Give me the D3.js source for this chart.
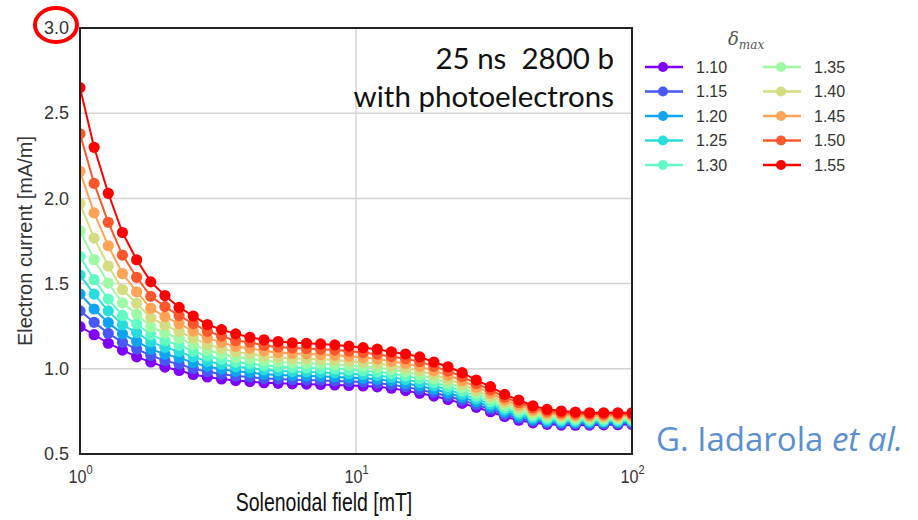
<!DOCTYPE html>
<html>
<head>
<meta charset="utf-8">
<script src="https://cdn.jsdelivr.net/npm/d3@7"></script>
<style>
  body { margin: 0; background: #fff; }
  svg { display: block; font-family: "Liberation Sans", Arial, sans-serif; }
</style>
</head>
<body>
<svg width="918" height="520"></svg>
<script>
var width = 918, height = 520;

// solenoidal field [mT], 40 log-spaced points
var fieldMT = [1.000, 1.125, 1.266, 1.425, 1.604, 1.805, 2.031, 2.286, 2.572, 2.894,
  3.257, 3.665, 4.125, 4.642, 5.223, 5.878, 6.615, 7.443, 8.377, 9.427,
  10.61, 11.94, 13.43, 15.12, 17.01, 19.14, 21.54, 24.24, 27.28, 30.70,
  34.55, 38.88, 43.75, 49.24, 55.41, 62.35, 70.17, 78.96, 88.86, 100.0];

var deltaMax = ['1.10', '1.15', '1.20', '1.25', '1.30', '1.35', '1.40', '1.45', '1.50', '1.55'];

// electron current [mA/m] for each delta_max
var d110 = [1.247,1.200,1.150,1.110,1.070,1.040,1.010,0.990,0.967,0.952,0.940,0.931,0.925,0.918,0.915,0.912,0.910,0.908,0.905,0.902,0.899,0.894,0.886,0.872,0.856,0.840,0.820,0.797,0.774,0.748,0.720,0.698,0.683,0.674,0.670,0.669,0.670,0.671,0.672,0.673];
var d115 = [1.340,1.273,1.208,1.156,1.116,1.078,1.048,1.027,1.001,0.983,0.969,0.958,0.952,0.943,0.940,0.936,0.934,0.932,0.929,0.925,0.922,0.916,0.907,0.894,0.877,0.860,0.839,0.815,0.790,0.763,0.733,0.710,0.693,0.683,0.678,0.677,0.677,0.678,0.679,0.680];
var d120 = [1.439,1.351,1.271,1.205,1.161,1.115,1.086,1.064,1.036,1.014,0.998,0.985,0.978,0.968,0.964,0.960,0.958,0.956,0.952,0.948,0.944,0.938,0.929,0.915,0.899,0.880,0.858,0.833,0.806,0.777,0.746,0.722,0.703,0.692,0.686,0.684,0.684,0.685,0.686,0.687];
var d125 = [1.550,1.438,1.340,1.259,1.213,1.158,1.126,1.101,1.070,1.044,1.027,1.012,1.005,0.994,0.989,0.984,0.982,0.979,0.976,0.971,0.967,0.960,0.950,0.937,0.920,0.900,0.878,0.851,0.822,0.792,0.759,0.734,0.713,0.700,0.695,0.692,0.692,0.692,0.693,0.694];
var d130 = [1.660,1.523,1.409,1.313,1.264,1.200,1.165,1.138,1.104,1.075,1.056,1.039,1.031,1.019,1.013,1.008,1.006,1.003,0.999,0.994,0.989,0.982,0.972,0.958,0.942,0.920,0.897,0.869,0.838,0.807,0.772,0.746,0.723,0.709,0.703,0.700,0.699,0.699,0.700,0.701];
var d135 = [1.810,1.641,1.503,1.387,1.321,1.247,1.210,1.179,1.142,1.109,1.088,1.068,1.060,1.047,1.040,1.035,1.032,1.029,1.025,1.020,1.014,1.007,0.995,0.982,0.965,0.942,0.918,0.889,0.856,0.823,0.786,0.759,0.734,0.719,0.712,0.708,0.707,0.707,0.708,0.708];
var d140 = [1.970,1.767,1.603,1.465,1.384,1.299,1.256,1.219,1.180,1.143,1.120,1.098,1.089,1.074,1.067,1.061,1.059,1.056,1.051,1.045,1.039,1.031,1.019,1.005,0.989,0.964,0.939,0.909,0.873,0.839,0.801,0.772,0.745,0.729,0.721,0.717,0.715,0.715,0.715,0.716];
var d145 = [2.159,1.915,1.722,1.559,1.452,1.355,1.306,1.264,1.221,1.180,1.155,1.130,1.121,1.105,1.096,1.090,1.088,1.084,1.079,1.073,1.066,1.058,1.044,1.031,1.014,0.988,0.962,0.930,0.892,0.857,0.816,0.786,0.757,0.739,0.731,0.726,0.723,0.724,0.724,0.724];
var d150 = [2.379,2.088,1.860,1.667,1.537,1.425,1.365,1.312,1.265,1.220,1.192,1.165,1.156,1.137,1.128,1.122,1.119,1.115,1.110,1.103,1.095,1.086,1.072,1.059,1.042,1.014,0.987,0.954,0.913,0.876,0.833,0.802,0.770,0.751,0.741,0.736,0.733,0.733,0.733,0.733];
var d155 = [2.650,2.300,2.030,1.800,1.640,1.510,1.430,1.360,1.310,1.260,1.230,1.205,1.185,1.170,1.160,1.153,1.150,1.146,1.140,1.133,1.124,1.115,1.100,1.087,1.070,1.040,1.012,0.977,0.934,0.895,0.850,0.817,0.783,0.762,0.752,0.746,0.742,0.742,0.742,0.742];

var yTicks = [0.5, 1.0, 1.5, 2.0, 2.5, 3.0];
var xTicks = [1, 10, 100];

var allSeries = [d110, d115, d120, d125, d130, d135, d140, d145, d150, d155];

// matplotlib "rainbow" colours
var colors = ['#8000ff', '#4757fb', '#0ea4f0', '#2adddd', '#62fbc4',
              '#9cfba4', '#d4dd80', '#ffa457', '#ff572c', '#ff0000'];

var plotLeft = 80, plotRight = 632, plotTop = 28, plotBottom = 454;

var svg = d3.select('svg');

var x = d3.scaleLog().domain([1, 100]).range([plotLeft, plotRight]);
var y = d3.scaleLinear().domain([0.5, 3.0]).range([plotBottom, plotTop]);

// grid
svg.append('g').selectAll('line.gy')
    .data(yTicks).enter().append('line')
    .attr('x1', plotLeft).attr('x2', plotRight)
    .attr('y1', function(d) { return y(d); }).attr('y2', function(d) { return y(d); })
    .attr('stroke', '#d4d4d4').attr('stroke-width', 1.5);
svg.append('g').selectAll('line.gx')
    .data(xTicks).enter().append('line')
    .attr('y1', plotTop).attr('y2', plotBottom)
    .attr('x1', function(d) { return x(d); }).attr('x2', function(d) { return x(d); })
    .attr('stroke', '#d4d4d4').attr('stroke-width', 1.5);

svg.append('clipPath').attr('id', 'plotclip')
    .append('rect')
    .attr('x', plotLeft).attr('y', plotTop)
    .attr('width', plotRight - plotLeft).attr('height', plotBottom - plotTop);

var line = d3.line()
    .x(function(d, i) { return x(fieldMT[i]); })
    .y(function(d) { return y(d); });

var plot = svg.append('g').attr('clip-path', 'url(#plotclip)');

allSeries.forEach(function(vals, k) {
    var g = plot.append('g');
    g.append('path')
        .attr('d', line(vals))
        .attr('fill', 'none')
        .attr('stroke', colors[k])
        .attr('stroke-width', 2);
    g.selectAll('circle')
        .data(vals).enter().append('circle')
        .attr('cx', function(d, i) { return x(fieldMT[i]); })
        .attr('cy', function(d) { return y(d); })
        .attr('r', 5.6)
        .attr('fill', colors[k]);
});

// frame
svg.append('rect')
    .attr('x', plotLeft).attr('y', plotTop)
    .attr('width', plotRight - plotLeft).attr('height', plotBottom - plotTop)
    .attr('fill', 'none').attr('stroke', '#222').attr('stroke-width', 2);

// y axis
var yAxis = svg.append('g')
    .attr('transform', 'translate(' + plotLeft + ',0)')
    .call(d3.axisLeft(y).tickValues(yTicks).tickFormat(d3.format('.1f')).tickSize(0).tickPadding(11));
yAxis.select('.domain').remove();
yAxis.selectAll('text')
    .attr('font-size', 18)
    .attr('font-family', '"Liberation Sans", Arial, sans-serif')
    .attr('fill', '#333');

// x axis with 10^n labels (condensed like the original)
var xAxis = svg.append('g')
    .attr('transform', 'translate(0,' + plotBottom + ')')
    .call(d3.axisBottom(x).tickValues(xTicks).tickFormat('').tickSize(0));
xAxis.select('.domain').remove();
xAxis.selectAll('.tick').append('text')
    .attr('transform', 'translate(0,29) scale(0.85,1)')
    .attr('text-anchor', 'middle')
    .attr('fill', '#333')
    .attr('font-size', 19)
    .each(function(d) {
        var t = d3.select(this);
        t.append('tspan').text('10');
        t.append('tspan').attr('dy', -9).attr('font-size', 13).text(Math.round(Math.log10(d)));
    });

// axis titles
svg.append('text')
    .attr('transform', 'translate(324,511) scale(0.78,1)')
    .attr('text-anchor', 'middle')
    .attr('font-size', 25)
    .attr('fill', '#111')
    .text('Solenoidal field [mT]');

svg.append('text')
    .attr('transform', 'translate(32,' + 241 + ') rotate(-90)')
    .attr('text-anchor', 'middle')
    .attr('font-size', 20)
    .attr('fill', '#333')
    .text('Electron current [mA/m]');

// red circle around top tick
svg.append('ellipse')
    .attr('cx', 56).attr('cy', 25).attr('rx', 21).attr('ry', 17)
    .attr('fill', 'none').attr('stroke', '#ff0000').attr('stroke-width', 4);

// annotation
var note = svg.append('text')
    .attr('text-anchor', 'end')
    .attr('font-family', 'Lato, "Open Sans", sans-serif')
    .attr('font-size', 29.5)
    .attr('fill', '#111')
    .style('white-space', 'pre');
note.append('tspan').attr('x', 614).attr('y', 69).text('25 ns  2800 b');
note.append('tspan').attr('x', 614).attr('y', 107).text('with photoelectrons');

// legend
var legend = svg.append('g');
var lt = legend.append('text')
    .attr('x', 728).attr('y', 45)
    .attr('font-family', '"DejaVu Serif", serif')
    .attr('font-style', 'italic')
    .attr('fill', '#555')
    .attr('font-size', 18);
lt.append('tspan').text('δ');
lt.append('tspan').attr('dy', 4).attr('font-size', 12).text('max');

deltaMax.forEach(function(lbl, k) {
    var col = Math.floor(k / 5), row = k % 5;
    var lx = 645 + col * 118, ly = 67 + row * 24.5;
    legend.append('line')
        .attr('x1', lx).attr('x2', lx + 38)
        .attr('y1', ly).attr('y2', ly)
        .attr('stroke', colors[k]).attr('stroke-width', 2.5);
    legend.append('circle')
        .attr('cx', lx + 18).attr('cy', ly).attr('r', 5)
        .attr('fill', colors[k]);
    legend.append('text')
        .attr('x', lx + 51).attr('y', ly + 5.5)
        .attr('font-size', 16)
        .attr('fill', '#333')
        .text(lbl);
});

// credit
var credit = svg.append('text')
    .attr('x', 656).attr('y', 451)
    .attr('font-family', '"Open Sans", Lato, sans-serif')
    .attr('font-size', 33)
    .attr('fill', '#5b8fd0');
credit.append('tspan').text('G. Iadarola ');
credit.append('tspan').attr('font-style', 'italic').text('et al.');
</script>
</body>
</html>
